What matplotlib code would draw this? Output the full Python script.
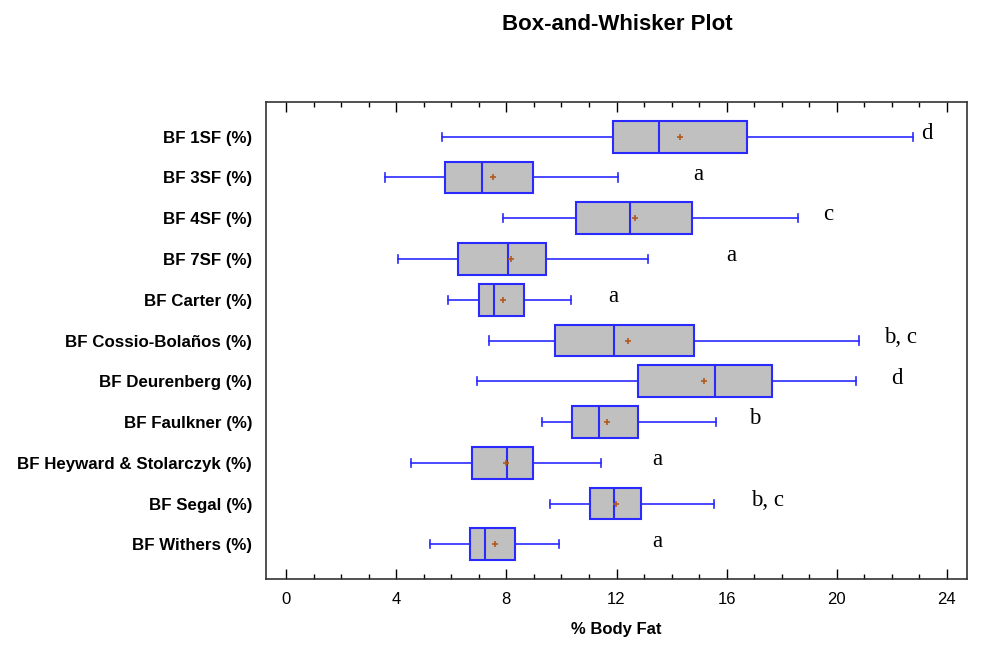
import numpy as np
import matplotlib
matplotlib.use("Agg")
import matplotlib.pyplot as plt
from matplotlib.ticker import MultipleLocator

# Kategorien und Kennwerte (von oben nach unten)
labels = ["BF 1SF (%)", "BF 3SF (%)", "BF 4SF (%)", "BF 7SF (%)", "BF Carter (%)",
          "BF Cossio-Bolaños (%)", "BF Deurenberg (%)", "BF Faulkner (%)",
          "BF Heyward & Stolarczyk (%)", "BF Segal (%)", "BF Withers (%)"]
whisker_lo = [5.66, 3.60, 7.89, 4.05, 5.87, 7.37, 6.92, 9.29, 4.52, 9.58, 5.23]
q1 = [11.86, 5.77, 10.53, 6.24, 7.00, 9.76, 12.79, 10.37, 6.74, 11.05, 6.69]
median = [13.53, 7.12, 12.50, 8.06, 7.55, 11.90, 15.56, 11.38, 8.01, 11.90, 7.24]
q3 = [16.74, 8.98, 14.76, 9.45, 8.64, 14.80, 17.63, 12.79, 8.98, 12.90, 8.30]
whisker_hi = [22.77, 12.06, 18.61, 13.16, 10.34, 20.81, 20.71, 15.61, 11.43, 15.53, 9.92]
means = [14.31, 7.50, 12.69, 8.18, 7.86, 12.40, 15.19, 11.65, 7.99, 11.99, 7.58]

# Buchstaben der homogenen Gruppen
groups = ["d", "a", "c", "a", "a", "b, c", "d", "b", "a", "b, c", "a"]
group_x = [23.06, 14.8, 19.5, 16.0, 11.7, 21.7, 21.96, 16.8, 13.3, 16.9, 13.3]

blue = "#2a2aff"

stats = []
for i in range(len(labels)):
    stats.append({
        "whislo": whisker_lo[i], "q1": q1[i], "med": median[i],
        "q3": q3[i], "whishi": whisker_hi[i], "mean": means[i],
        "fliers": [], "label": labels[i],
    })

fig = plt.figure(figsize=(10, 6.47), dpi=100)
ax = fig.add_axes([0.266, 0.1051, 0.701, 0.7372])

pos = np.arange(1, len(labels) + 1)
ax.bxp(stats, positions=pos, orientation="horizontal", widths=0.78,
       patch_artist=True, showmeans=True, capwidths=0.2,
       boxprops=dict(facecolor="#c0c0c0", edgecolor=blue, linewidth=1.5),
       medianprops=dict(color=blue, linewidth=1.5),
       whiskerprops=dict(color=blue, linewidth=1.2),
       capprops=dict(color=blue, linewidth=1.2),
       meanprops=dict(marker="+", markeredgecolor="#b05a1e", markersize=5,
                      markeredgewidth=1.2))

for i in range(len(labels)):
    ax.text(group_x[i], pos[i] - 0.08, groups[i], family="Liberation Serif",
            fontsize=16.5, va="center", ha="left")

ax.set_xlim(-0.73, 24.73)
ax.set_ylim(11.85, 0.15)
ax.set_yticks(pos)
ax.set_yticklabels(labels, family="Liberation Sans", fontweight="bold", fontsize=12.2)
ax.tick_params(axis="y", length=0, pad=10)

ax.xaxis.set_major_locator(MultipleLocator(4))
ax.xaxis.set_minor_locator(MultipleLocator(1))
ax.tick_params(axis="x", which="major", direction="in", length=7, width=1,
               top=True, pad=9, labelsize=12)
ax.tick_params(axis="x", which="minor", direction="in", length=3.6, width=1, top=True)
for lab in ax.get_xticklabels():
    lab.set_family("Liberation Sans")

for sp in ax.spines.values():
    sp.set_color("#333333")
    sp.set_linewidth(1.2)

ax.set_xlabel("% Body Fat", family="Liberation Sans", fontweight="bold",
              fontsize=12, labelpad=11)

fig.text(0.617, 1 - 24 / 647, "Box-and-Whisker Plot", family="Liberation Sans",
         fontweight="bold", fontsize=16, ha="center", va="center")

fig.savefig("out.png", dpi=100)
